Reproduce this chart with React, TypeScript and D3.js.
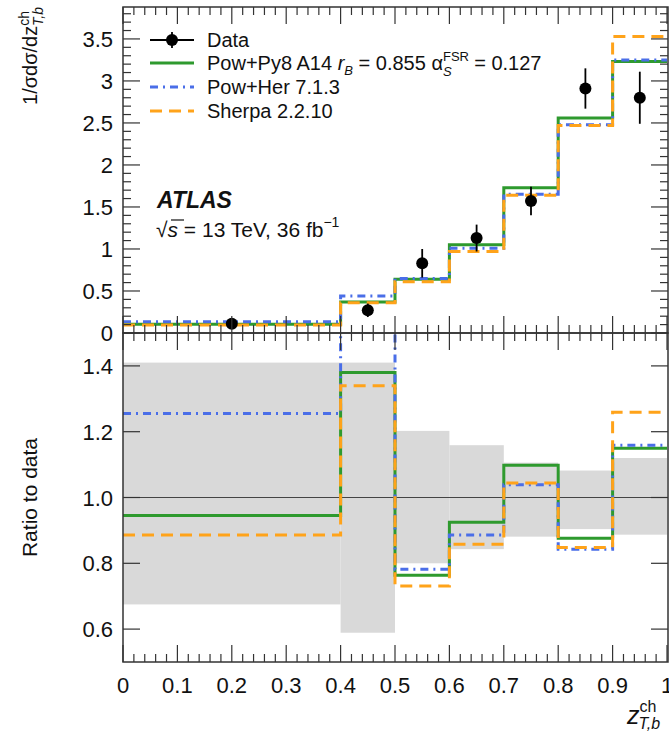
import React from 'react';
import * as d3 from 'd3';

const binEdges = [0, 0.4, 0.5, 0.6, 0.7, 0.8, 0.9, 1.0];
const dataX = [0.2, 0.45, 0.55, 0.65, 0.75, 0.85, 0.95];
const dataY = [0.11, 0.27, 0.83, 1.13, 1.57, 2.91, 2.8];
const dataErr = [0.04, 0.08, 0.17, 0.16, 0.17, 0.24, 0.31];

const pythia = [0.105, 0.37, 0.64, 1.05, 1.73, 2.56, 3.23];
const herwig = [0.135, 0.44, 0.65, 1.01, 1.65, 2.48, 3.25];
const sherpa = [0.095, 0.36, 0.61, 0.97, 1.64, 2.47, 3.53];

const pythiaRatio = [0.945, 1.38, 0.764, 0.925, 1.098, 0.876, 1.15];
const herwigRatio = [1.255, 1.6, 0.782, 0.886, 1.039, 0.843, 1.159];
const sherpaRatio = [0.886, 1.34, 0.731, 0.858, 1.044, 0.848, 1.259];
const bandHi = [1.41, 1.41, 1.2025, 1.159, 1.106, 1.082, 1.12];
const bandLo = [0.675, 0.589, 0.8, 0.843, 0.881, 0.904, 0.887];

const xTicks = [0, 0.1, 0.2, 0.3, 0.4, 0.5, 0.6, 0.7, 0.8, 0.9, 1];
const xTickLabels = ['0', '0.1', '0.2', '0.3', '0.4', '0.5', '0.6', '0.7', '0.8', '0.9', '1'];
const topTicks = [0, 0.5, 1, 1.5, 2, 2.5, 3, 3.5];
const topTickLabels = ['0', '0.5', '1', '1.5', '2', '2.5', '3', '3.5'];
const ratioTicks = [0.6, 0.8, 1.0, 1.2, 1.4];
const ratioTickLabels = ['0.6', '0.8', '1.0', '1.2', '1.4'];

const W = 669;
const H = 738;
const FONT = '"Liberation Sans", Arial, Helvetica, sans-serif';
const GREEN = '#2e9a2e';
const BLUE = '#4a6ee8';
const ORANGE = '#ffa31a';
const AXIS = '#333';

const left = 123;
const right = 668;
const topY0 = 7;
const topY1 = 333;
const botY1 = 662;

const x = d3.scaleLinear().domain([0, 1]).range([left, 667]);
const yTop = d3.scaleLinear().domain([0, 3.88]).range([topY1, topY0]);
const yRat = d3.scaleLinear().domain([0.5, 1.5]).range([botY1, topY1]);

const stepPath = (vals: number[], y: d3.ScaleLinear<number, number>) => {
  const pts: [number, number][] = binEdges.map((e, i) => [e, vals[Math.min(i, vals.length - 1)]]);
  return d3.line<[number, number]>()
    .x((d) => x(d[0]))
    .y((d) => y(d[1]))
    .curve(d3.curveStepAfter)(pts) || '';
};

const MAJ = 17;
const MIN = 8;

const XTicks = ({ y0, dir }: { y0: number; dir: number }) => {
  const minor = d3.range(0, 1.0001, 0.02).filter((v) => Math.abs(v * 10 - Math.round(v * 10)) > 1e-6);
  return (
    <g stroke={AXIS} strokeWidth={1.2}>
      {xTicks.map((t) => (
        <line key={'M' + t} x1={x(t)} x2={x(t)} y1={y0} y2={y0 + dir * MAJ} />
      ))}
      {minor.map((t) => (
        <line key={'m' + t} x1={x(t)} x2={x(t)} y1={y0} y2={y0 + dir * MIN} />
      ))}
    </g>
  );
};

const series = [
  { vals: pythia, ratio: pythiaRatio, color: GREEN, dash: undefined },
  { vals: herwig, ratio: herwigRatio, color: BLUE, dash: '8,5,2,5' },
  { vals: sherpa, ratio: sherpaRatio, color: ORANGE, dash: '12,7' },
];

export default function App() {
  const topMinor = d3.range(0, 3.85, 0.1).filter((v) => Math.abs(v * 2 - Math.round(v * 2)) > 1e-6);
  const legendRows = [40, 63, 87, 111];

  return (
    <svg
      width={W}
      height={H}
      style={{ position: 'absolute', left: 0, top: 0, background: '#fff', fontFamily: FONT }}
    >
      <defs>
        <clipPath id="clipRatio">
          <rect x={left} y={topY1} width={right - left} height={botY1 - topY1} />
        </clipPath>
        <clipPath id="clipTop">
          <rect x={left} y={topY0} width={right - left} height={topY1 - topY0} />
        </clipPath>
      </defs>

      {/* ratio panel: uncertainty band */}
      <g clipPath="url(#clipRatio)">
        {bandHi.map((hi, i) => (
          <rect
            key={i}
            x={x(binEdges[i])}
            width={x(binEdges[i + 1]) - x(binEdges[i])}
            y={yRat(hi)}
            height={yRat(bandLo[i]) - yRat(hi)}
            fill="#d9d9d9"
          />
        ))}
        <line x1={left} x2={right} y1={yRat(1)} y2={yRat(1)} stroke="#444" strokeWidth={1.2} />
        {series.map((s, i) => (
          <path key={i} d={stepPath(s.ratio, yRat)} fill="none" stroke={s.color} strokeWidth={3} strokeDasharray={s.dash} />
        ))}
      </g>

      {/* top panel histograms */}
      <g clipPath="url(#clipTop)">
        {series.map((s, i) => (
          <path key={i} d={stepPath(s.vals, yTop)} fill="none" stroke={s.color} strokeWidth={3} strokeDasharray={s.dash} />
        ))}
      </g>

      {/* data points */}
      <g>
        {dataX.map((dx, i) => (
          <g key={i}>
            <line x1={x(dx)} x2={x(dx)} y1={yTop(dataY[i] - dataErr[i])} y2={yTop(dataY[i] + dataErr[i])} stroke="#000" strokeWidth={1.8} />
            <circle cx={x(dx)} cy={yTop(dataY[i])} r={6} fill="#000" />
          </g>
        ))}
      </g>

      {/* frames */}
      <rect x={left} y={topY0} width={right - left} height={topY1 - topY0} fill="none" stroke={AXIS} strokeWidth={1.5} />
      <rect x={left} y={topY1} width={right - left} height={botY1 - topY1} fill="none" stroke={AXIS} strokeWidth={1.5} />

      {/* x ticks */}
      <XTicks y0={topY0} dir={1} />
      <XTicks y0={topY1} dir={-1} />
      <XTicks y0={topY1} dir={1} />
      <XTicks y0={botY1} dir={-1} />

      {/* y ticks */}
      <g stroke={AXIS} strokeWidth={1.2}>
        {topTicks.map((t) => (
          <g key={t}>
            <line x1={left} x2={left + MAJ} y1={yTop(t)} y2={yTop(t)} />
            <line x1={right} x2={right - MAJ} y1={yTop(t)} y2={yTop(t)} />
          </g>
        ))}
        {topMinor.map((t) => (
          <g key={t}>
            <line x1={left} x2={left + MIN} y1={yTop(t)} y2={yTop(t)} />
            <line x1={right} x2={right - MIN} y1={yTop(t)} y2={yTop(t)} />
          </g>
        ))}
        {ratioTicks.map((t) => (
          <g key={'r' + t}>
            <line x1={left} x2={left + MAJ} y1={yRat(t)} y2={yRat(t)} />
            <line x1={right} x2={right - MAJ} y1={yRat(t)} y2={yRat(t)} />
          </g>
        ))}
      </g>

      {/* tick labels */}
      <g fontSize={22} fill="#111">
        {topTicks.map((t, i) => (
          <text key={t} x={113} y={yTop(t) + 8} textAnchor="end">{topTickLabels[i]}</text>
        ))}
        {ratioTicks.map((t, i) => (
          <text key={t} x={113} y={yRat(t) + 8} textAnchor="end">{ratioTickLabels[i]}</text>
        ))}
        {xTicks.map((t, i) => (
          <text key={t} x={x(t)} y={693} textAnchor="middle">{xTickLabels[i]}</text>
        ))}
      </g>

      {/* axis titles */}
      <text transform="translate(37,7) rotate(-90)" textAnchor="end" fontSize={20} fill="#111">
        1/σdσ/dz
        <tspan fontSize={14} dy={-8}>ch</tspan>
        <tspan fontSize={14} fontStyle="italic" dx={-15} dy={14}>T,b</tspan>
      </text>
      <text transform={`translate(37,${(topY1 + botY1) / 2}) rotate(-90)`} textAnchor="middle" fontSize={21} fill="#111">
        Ratio to data
      </text>
      <text x={627} y={724} fontSize={25} fontStyle="italic" fill="#111">
        z
        <tspan fontSize={16} fontStyle="normal" dy={-12}>ch</tspan>
        <tspan fontSize={16} dx={-18} dy={17}>T,b</tspan>
      </text>

      {/* legend */}
      <g fontSize={20} fill="#111">
        <line x1={150} x2={194} y1={legendRows[0]} y2={legendRows[0]} stroke="#000" strokeWidth={1.8} />
        <line x1={172} x2={172} y1={legendRows[0] - 8} y2={legendRows[0] + 8} stroke="#000" strokeWidth={1.8} />
        <circle cx={172} cy={legendRows[0]} r={6} fill="#000" />
        <text x={207} y={legendRows[0] + 7}>Data</text>

        {series.map((s, i) => (
          <line key={i} x1={150} x2={194} y1={legendRows[i + 1]} y2={legendRows[i + 1]} stroke={s.color} strokeWidth={3} strokeDasharray={s.dash} />
        ))}
        <text x={207} y={legendRows[1] + 7}>
          Pow+Py8 A14 <tspan fontStyle="italic">r</tspan>
          <tspan fontSize={13} fontStyle="italic" dy={5}>B</tspan>
          <tspan dy={-5}> = 0.855 α</tspan>
          <tspan fontSize={13} dy={-9}>FSR</tspan>
          <tspan fontSize={13} fontStyle="italic" dx={-26} dy={15}>S</tspan>
          <tspan dx={17} dy={-6}> = 0.127</tspan>
        </text>
        <text x={207} y={legendRows[2] + 7}>Pow+Her 7.1.3</text>
        <text x={207} y={legendRows[3] + 7}>Sherpa 2.2.10</text>
      </g>

      {/* ATLAS label */}
      <text x={157} y={208} fontSize={23} fontWeight="bold" fontStyle="italic" fill="#111">ATLAS</text>
      <g fontSize={21} fill="#111">
        <line x1={171} x2={184} y1={220} y2={220} stroke="#111" strokeWidth={1.2} />
        <text x={156} y={237}>
          √<tspan fontStyle="italic">s</tspan> = 13 TeV, 36 fb
          <tspan fontSize={14} dy={-10}>−1</tspan>
        </text>
      </g>
    </svg>
  );
}
